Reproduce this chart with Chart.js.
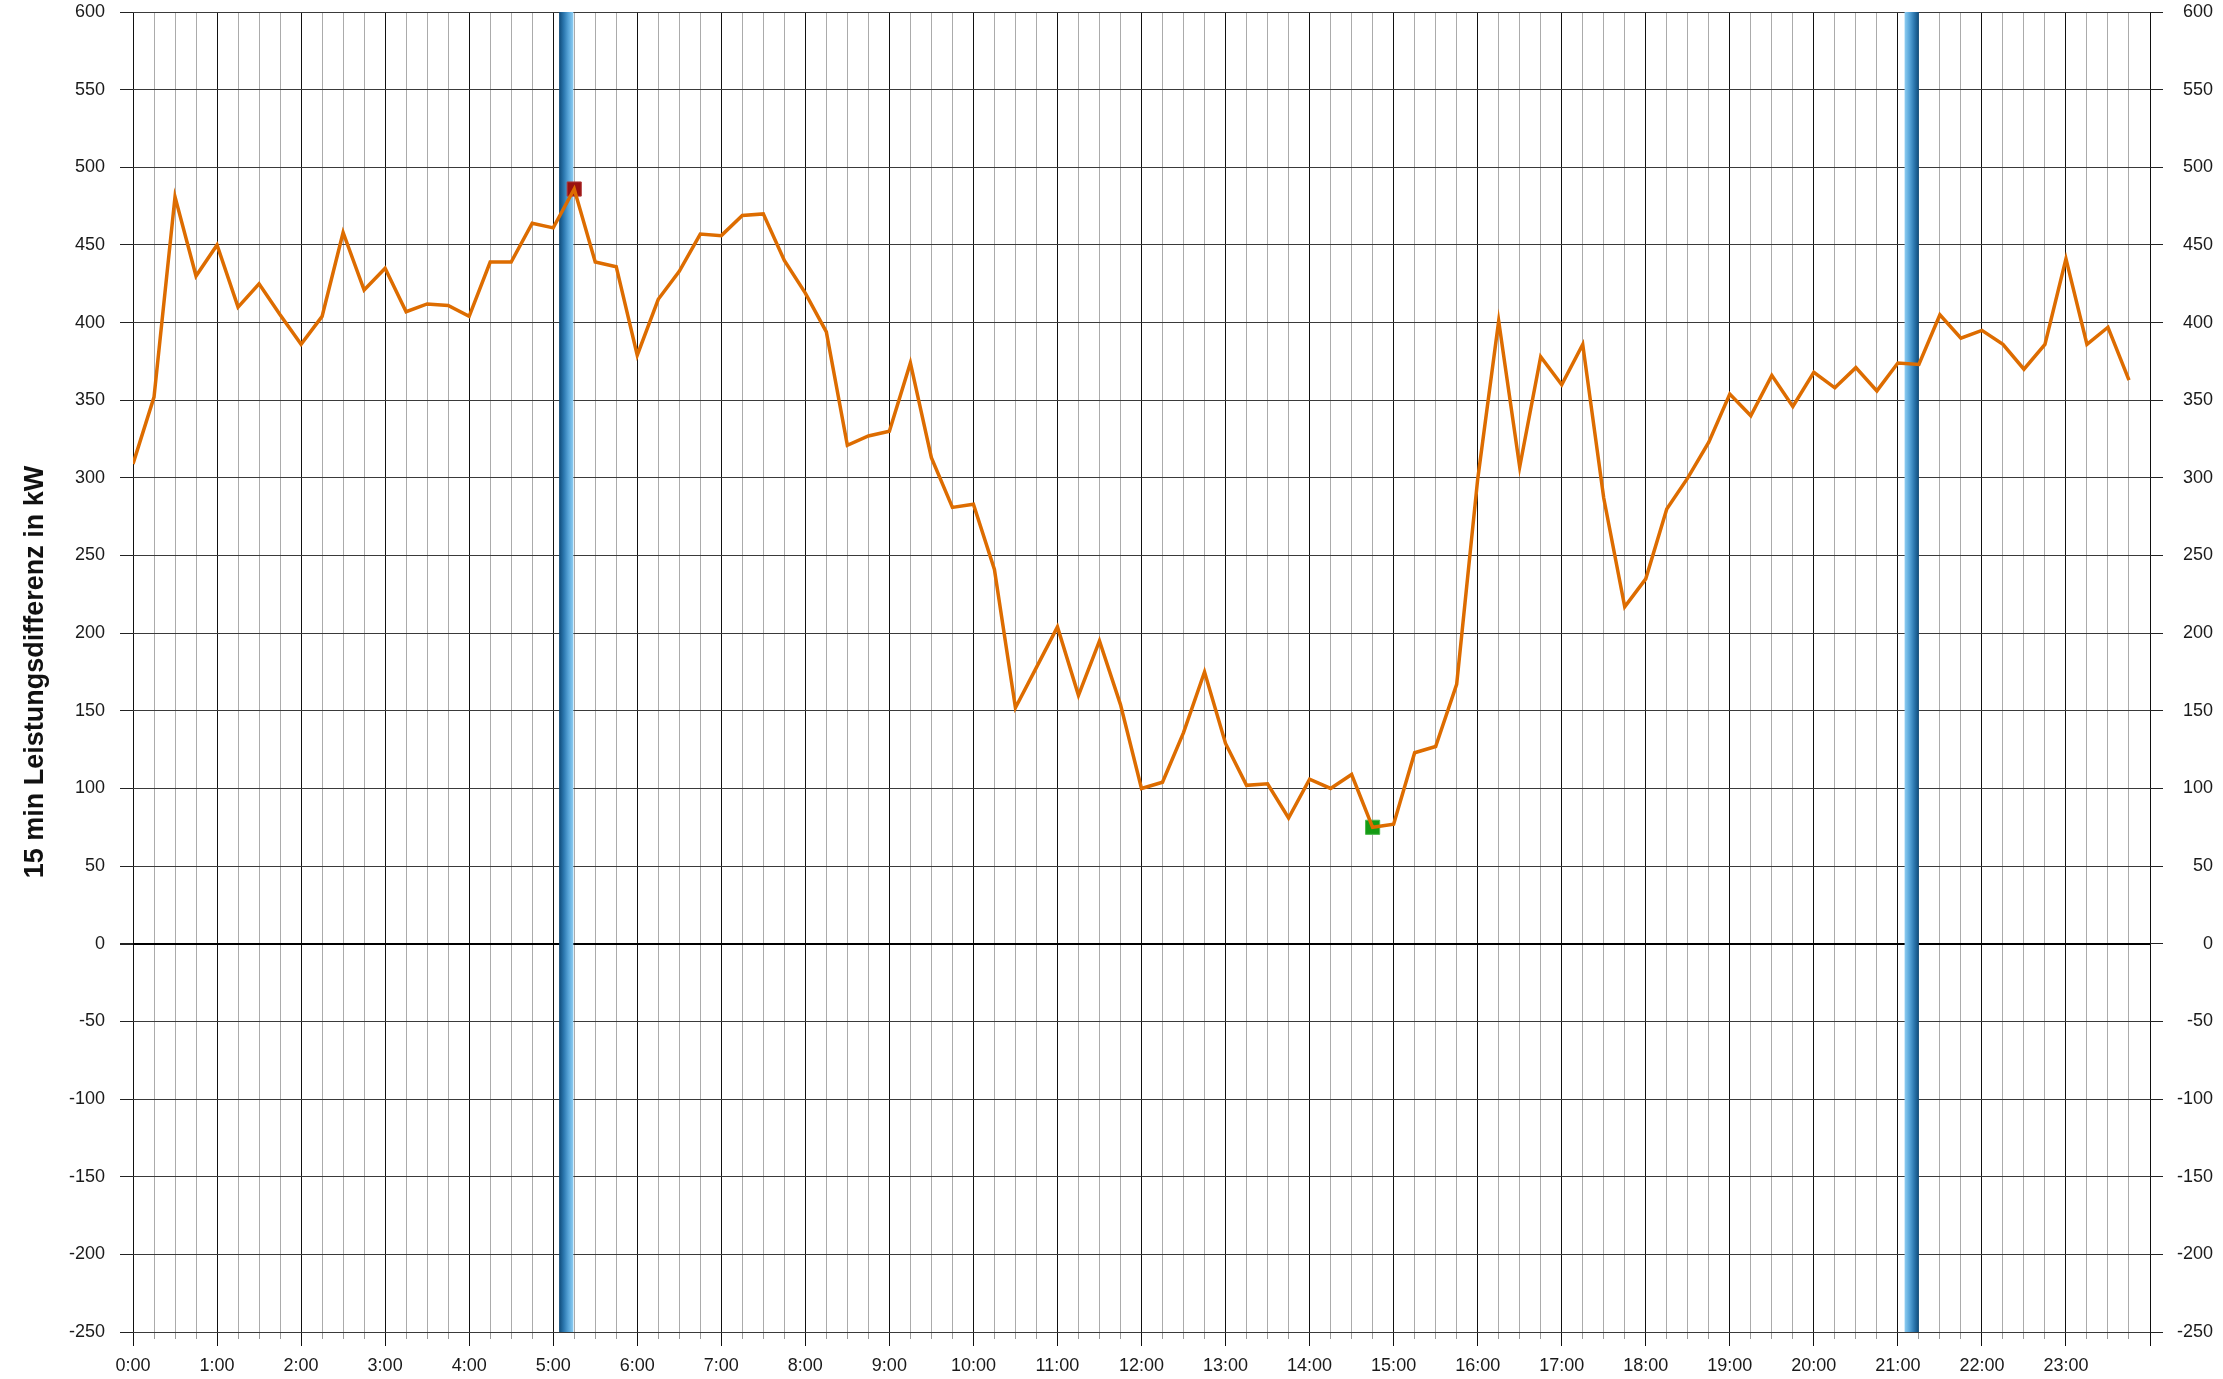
<!DOCTYPE html>
<html>
<head>
<meta charset="utf-8">
<script src="https://cdn.jsdelivr.net/npm/chart.js@4/dist/chart.umd.min.js"></script>
<style>
  html, body { margin: 0; padding: 0; background: #fff; }
  canvas { display: block; }
</style>
</head>
<body>
<canvas id="diffChart" width="2223" height="1379"></canvas>
<script>
// 15 min power difference in kW, one value per quarter hour (0:00 .. 23:45)
const loadDiff = [
  309, 352, 481, 430, 450, 410, 425, 405, 386, 404, 458, 421,
  435, 407, 412, 411, 404, 439, 439, 464, 461, 486, 439, 436,
  379, 415, 433, 457, 456, 469, 470, 440, 419, 394, 321, 327,
  330, 374, 313, 281, 283, 241, 152, 178, 204, 160, 195, 154,
  100, 104, 136, 175, 129, 102, 103, 81, 106, 100, 109, 75,
  77, 123, 127, 167, 299, 401, 307, 378, 360, 386, 287, 217,
  235, 280, 300, 323, 354, 340, 366, 346, 368, 358, 371, 356,
  374, 373, 405, 390, 395, 386, 370, 386, 441, 386, 397, 363
];
const slotHours = loadDiff.map((_, i) => i * 15 / 60);

const hourLabels = [
  '0:00', '1:00', '2:00', '3:00', '4:00', '5:00', '6:00', '7:00',
  '8:00', '9:00', '10:00', '11:00', '12:00', '13:00', '14:00', '15:00',
  '16:00', '17:00', '18:00', '19:00', '20:00', '21:00', '22:00', '23:00'
];

// time windows marked with the blue bars (in hours)
const bandFrom = [5.07, 21.08];
const bandTo = [5.24, 21.25];

const yMin = -250;
const yMax = 600;

// peak and lowest quarter hour
const maxIdx = loadDiff.indexOf(Math.max(...loadDiff));
const minIdx = loadDiff.indexOf(Math.min(...loadDiff));

const FONT = "'Liberation Sans', Arial, sans-serif";

const bandPlugin = {
  id: 'bands',
  beforeDatasetsDraw(chart) {
    const { ctx, chartArea, scales } = chart;
    const x = scales.x;
    ctx.save();
    bandFrom.forEach((from, i) => {
      const x0 = x.getPixelForValue(from);
      const x1 = x.getPixelForValue(bandTo[i]);
      const g = ctx.createLinearGradient(x0, 0, x1, 0);
      const stops = ['#0f4a78', '#2c78b0', '#5aa7da', '#8dcdf2'];
      const cols = i === 0 ? stops : stops.slice().reverse();
      cols.forEach((c, k) => g.addColorStop(k / (cols.length - 1), c));
      ctx.fillStyle = g;
      ctx.fillRect(x0, chartArea.top, x1 - x0, chartArea.bottom - chartArea.top);
    });
    ctx.restore();
  }
};

const ctx = document.getElementById('diffChart').getContext('2d');
const diffChart = new Chart(ctx, {
  type: 'line',
  data: {
    datasets: [{
      label: 'Leistungsdifferenz',
      data: loadDiff.map((v, i) => ({ x: slotHours[i], y: v })),
      borderColor: '#dd6c00',
      borderWidth: 3.5,
      pointRadius: 0,
      tension: 0,
      order: 0
    }, {
      label: 'Maximum',
      data: [{ x: slotHours[maxIdx], y: loadDiff[maxIdx] }],
      showLine: false,
      pointStyle: 'rect',
      pointRadius: 10,
      backgroundColor: '#9a1111',
      borderColor: '#b03a3a',
      borderWidth: 1,
      order: 1
    }, {
      label: 'Minimum',
      data: [{ x: slotHours[minIdx], y: loadDiff[minIdx] }],
      showLine: false,
      pointStyle: 'rect',
      pointRadius: 10,
      backgroundColor: '#149b14',
      borderColor: '#4fb84f',
      borderWidth: 1,
      order: 1
    }]
  },
  options: {
    responsive: false,
    animation: false,
    layout: { padding: { top: 0, right: 10, left: 0, bottom: 0 } },
    plugins: {
      legend: { display: false },
      tooltip: { enabled: false }
    },
    scales: {
      x: {
        type: 'linear',
        position: 'bottom',
        min: 0,
        max: 24,
        weight: 0,
        border: { display: false },
        grid: {
          color: c => (c.tick && c.tick.value % 1 === 0) ? '#111' : '#ababab',
          tickColor: c => (c.tick && c.tick.value % 1 === 0) ? '#111' : '#999',
          lineWidth: 1,
          tickLength: 7
        },
        ticks: { stepSize: 0.25, autoSkip: false, display: false }
      },
      hours: {
        type: 'linear',
        position: 'bottom',
        min: 0,
        max: 24,
        weight: 1,
        border: { display: false },
        grid: { drawOnChartArea: false, tickColor: '#111', tickLength: 7 },
        ticks: {
          stepSize: 1,
          autoSkip: false,
          maxRotation: 0,
          padding: 9,
          color: '#1a1a1a',
          font: { family: FONT, size: 18 },
          callback: v => hourLabels[v] !== undefined ? hourLabels[v] : ''
        },
        afterFit(scale) { scale.height = 40; }
      },
      y: {
        position: 'left',
        min: yMin,
        max: yMax,
        border: { display: false },
        grid: {
          color: c => (c.tick && c.tick.value === 0) ? '#000' : '#3a3a3a',
          lineWidth: c => (c.tick && c.tick.value === 0) ? 2 : 1,
          tickColor: '#222',
          tickLength: 13
        },
        ticks: {
          stepSize: 50,
          padding: 15,
          color: '#1a1a1a',
          font: { family: FONT, size: 18 }
        },
        title: {
          display: true,
          text: '15 min Leistungsdifferenz in kW',
          color: '#111',
          font: { family: FONT, size: 27, weight: 'bold' },
          padding: { top: 19, bottom: 0 }
        },
        afterFit(scale) {
          scale.width = 133;
          scale.paddingTop = 12;
        }
      },
      y2: {
        position: 'right',
        min: yMin,
        max: yMax,
        border: { display: false },
        grid: { drawOnChartArea: false, tickColor: '#222', tickLength: 13 },
        ticks: {
          stepSize: 50,
          crossAlign: 'far',
          color: '#1a1a1a',
          font: { family: FONT, size: 18 }
        },
        afterFit(scale) {
          scale.width = 63;
          scale.paddingTop = 12;
        }
      }
    }
  },
  plugins: [bandPlugin]
});
</script>
</body>
</html>
